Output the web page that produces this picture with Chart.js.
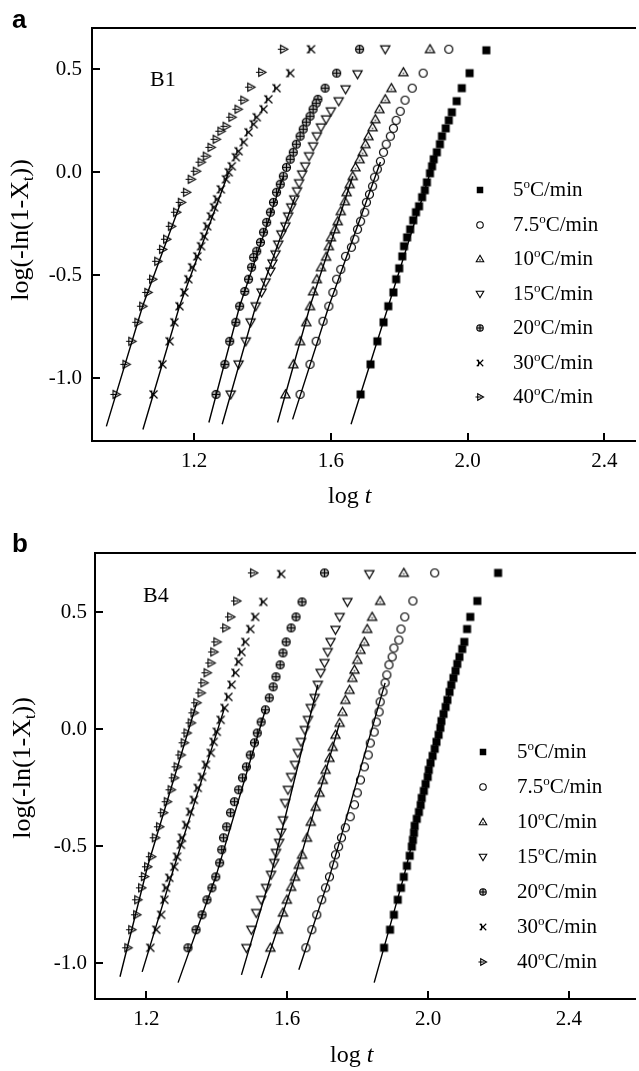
<!DOCTYPE html>
<html>
<head>
<meta charset="utf-8">
<script src="https://cdn.jsdelivr.net/npm/chart.js@4.4.0/dist/chart.umd.min.js"></script>
<style>
  html, body { margin: 0; padding: 0; background: #fff; }
  body { width: 639px; height: 1071px; position: relative; overflow: hidden;
         font-family: 'Liberation Serif', 'Times New Roman', serif; color: #000; }
  canvas.plot { position: absolute; left: 0; }
  .txt { position: absolute; white-space: nowrap; line-height: 1; }
  .panel { font-family: 'Liberation Sans', Arial, sans-serif; font-weight: bold; font-size: 26px; }
  .ytitle { font-size: 26px; transform: translate(-50%, -50%) rotate(-90deg); }
  .xtitle { font-size: 24px; }
  .tag { font-size: 22px; }
  .legtxt { font-size: 21px; }
  sup { font-size: 62%; vertical-align: 0.62em; line-height: 0; }
  sub { font-size: 62%; vertical-align: -0.32em; line-height: 0; }
  canvas.mk { position: absolute; }
</style>
</head>
<body>
<canvas id="chartA" class="plot" width="639" height="520" style="top:0"></canvas>
<canvas id="chartB" class="plot" width="639" height="546" style="top:525px"></canvas>

<div class="txt panel" style="left:12px; top:6px">a</div>
<div class="txt panel" style="left:12px; top:530px">b</div>
<div class="txt ytitle" style="left:20px; top:230px">log(-ln(1-X<sub>t</sub>))</div>
<div class="txt ytitle" style="left:22px; top:768px">log(-ln(1-X<sub>t</sub>))</div>
<div class="txt xtitle" style="left:328px; top:483px">log <i>t</i></div>
<div class="txt xtitle" style="left:330px; top:1042px">log <i>t</i></div>
<div class="txt tag" style="left:150px; top:68px">B1</div>
<div class="txt tag" style="left:143px; top:584px">B4</div>

<script>
// heating rates (legend categories)
const rates = ['5', '7.5', '10', '15', '20', '30', '40'];
const xTicks = [1.2, 1.6, 2.0, 2.4];
const yTicks = [-1.0, -0.5, 0.0, 0.5];

// ---- B1 (panel a): [log t, log(-ln(1-Xt))] ----
const b1_5 = [[2.055,0.592],[2.006,0.481],[1.983,0.408],[1.968,0.345],[1.954,0.291],[1.945,0.252],[1.936,0.213],[1.925,0.175],[1.919,0.136],[1.910,0.097],[1.901,0.063],[1.896,0.029],[1.890,-0.005],[1.881,-0.049],[1.875,-0.087],[1.867,-0.121],[1.858,-0.165],[1.849,-0.194],[1.841,-0.233],[1.832,-0.277],[1.823,-0.316],[1.814,-0.359],[1.809,-0.408],[1.800,-0.466],[1.791,-0.519],[1.783,-0.583],[1.768,-0.650],[1.754,-0.728],[1.736,-0.820],[1.716,-0.932],[1.687,-1.078]];
const b1_7 = [[1.945,0.597],[1.870,0.481],[1.838,0.408],[1.817,0.350],[1.803,0.296],[1.791,0.252],[1.783,0.213],[1.774,0.175],[1.762,0.136],[1.754,0.097],[1.745,0.053],[1.736,0.015],[1.728,-0.024],[1.722,-0.068],[1.713,-0.107],[1.704,-0.146],[1.699,-0.194],[1.687,-0.238],[1.678,-0.277],[1.670,-0.325],[1.660,-0.364],[1.643,-0.408],[1.629,-0.471],[1.617,-0.519],[1.606,-0.583],[1.594,-0.650],[1.577,-0.723],[1.557,-0.820],[1.539,-0.932],[1.510,-1.078]];
const b1_10 = [[1.890,0.597],[1.812,0.485],[1.777,0.408],[1.759,0.354],[1.742,0.306],[1.730,0.257],[1.722,0.218],[1.710,0.175],[1.701,0.136],[1.693,0.097],[1.684,0.063],[1.672,0.024],[1.664,-0.019],[1.655,-0.058],[1.646,-0.097],[1.641,-0.141],[1.629,-0.189],[1.620,-0.238],[1.612,-0.277],[1.600,-0.316],[1.594,-0.359],[1.586,-0.410],[1.571,-0.461],[1.559,-0.519],[1.548,-0.578],[1.539,-0.650],[1.528,-0.728],[1.510,-0.820],[1.490,-0.932],[1.467,-1.078]];
const b1_15 = [[1.759,0.597],[1.678,0.476],[1.643,0.403],[1.623,0.345],[1.600,0.296],[1.586,0.257],[1.571,0.218],[1.559,0.175],[1.548,0.126],[1.536,0.078],[1.525,0.029],[1.516,-0.010],[1.507,-0.053],[1.501,-0.092],[1.493,-0.131],[1.484,-0.170],[1.475,-0.214],[1.467,-0.262],[1.455,-0.301],[1.446,-0.350],[1.438,-0.398],[1.429,-0.442],[1.423,-0.481],[1.409,-0.534],[1.397,-0.583],[1.380,-0.650],[1.365,-0.728],[1.351,-0.820],[1.330,-0.932],[1.307,-1.078]];
const b1_20 = [[1.684,0.597],[1.617,0.481],[1.583,0.408],[1.562,0.354],[1.557,0.335],[1.548,0.306],[1.539,0.272],[1.528,0.243],[1.519,0.209],[1.510,0.175],[1.499,0.136],[1.490,0.097],[1.481,0.063],[1.470,0.024],[1.461,-0.019],[1.452,-0.058],[1.441,-0.097],[1.432,-0.146],[1.423,-0.194],[1.412,-0.243],[1.403,-0.291],[1.394,-0.340],[1.383,-0.383],[1.374,-0.413],[1.368,-0.461],[1.359,-0.519],[1.348,-0.578],[1.333,-0.650],[1.322,-0.728],[1.304,-0.820],[1.290,-0.932],[1.264,-1.078]];
const b1_30 = [[1.542,0.597],[1.481,0.481],[1.441,0.408],[1.417,0.354],[1.403,0.306],[1.383,0.267],[1.374,0.233],[1.359,0.194],[1.345,0.146],[1.330,0.102],[1.322,0.073],[1.310,0.029],[1.301,0.000],[1.293,-0.034],[1.278,-0.083],[1.267,-0.131],[1.258,-0.170],[1.249,-0.214],[1.238,-0.262],[1.229,-0.311],[1.220,-0.359],[1.209,-0.408],[1.194,-0.461],[1.183,-0.519],[1.171,-0.583],[1.157,-0.650],[1.142,-0.728],[1.128,-0.820],[1.107,-0.932],[1.081,-1.078]];
const b1_40 = [[1.461,0.597],[1.397,0.485],[1.365,0.413],[1.345,0.350],[1.328,0.306],[1.310,0.267],[1.293,0.223],[1.278,0.199],[1.264,0.160],[1.249,0.121],[1.235,0.078],[1.220,0.049],[1.206,0.005],[1.191,-0.034],[1.177,-0.097],[1.162,-0.146],[1.148,-0.194],[1.133,-0.262],[1.119,-0.325],[1.107,-0.374],[1.093,-0.432],[1.078,-0.519],[1.064,-0.583],[1.049,-0.650],[1.035,-0.728],[1.017,-0.820],[1.000,-0.932],[0.971,-1.078]];

// Avrami fit lines, B1
const b1Fit5 = [[1.659,-1.223],[1.768,-0.650],[1.910,0.100]];
const b1Fit7 = [[1.488,-1.199],[1.594,-0.650],[1.745,0.050]];
const b1Fit10 = [[1.444,-1.214],[1.539,-0.650],[1.664,-0.020]];
const b1Fit15 = [[1.282,-1.223],[1.380,-0.650],[1.495,-0.120]];
const b1Fit20 = [[1.243,-1.214],[1.333,-0.650],[1.461,-0.020]];
const b1Fit30 = [[1.050,-1.248],[1.157,-0.650],[1.301,0.000]];
const b1Fit40 = [[0.943,-1.233],[1.049,-0.650],[1.160,-0.150]];

// ---- B4 (panel b) ----
const b4_5 = [[2.199,0.668],[2.140,0.548],[2.120,0.480],[2.111,0.428],[2.103,0.373],[2.097,0.343],[2.089,0.309],[2.083,0.279],[2.078,0.249],[2.072,0.219],[2.066,0.189],[2.061,0.159],[2.055,0.125],[2.050,0.095],[2.044,0.065],[2.038,0.035],[2.035,0.006],[2.030,-0.024],[2.024,-0.054],[2.019,-0.084],[2.013,-0.114],[2.007,-0.144],[2.002,-0.174],[1.999,-0.204],[1.993,-0.234],[1.988,-0.264],[1.982,-0.294],[1.979,-0.324],[1.974,-0.354],[1.968,-0.383],[1.962,-0.413],[1.960,-0.443],[1.957,-0.473],[1.954,-0.502],[1.948,-0.541],[1.940,-0.584],[1.931,-0.631],[1.923,-0.678],[1.914,-0.729],[1.903,-0.793],[1.892,-0.857],[1.875,-0.934]];
const b4_7 = [[2.019,0.668],[1.957,0.548],[1.934,0.480],[1.923,0.428],[1.917,0.381],[1.903,0.347],[1.898,0.309],[1.889,0.275],[1.883,0.232],[1.878,0.198],[1.872,0.160],[1.864,0.117],[1.861,0.074],[1.853,0.031],[1.847,-0.012],[1.836,-0.059],[1.830,-0.110],[1.819,-0.161],[1.808,-0.217],[1.799,-0.272],[1.791,-0.323],[1.779,-0.374],[1.765,-0.421],[1.754,-0.464],[1.746,-0.502],[1.737,-0.537],[1.732,-0.580],[1.720,-0.631],[1.709,-0.678],[1.698,-0.729],[1.684,-0.793],[1.670,-0.857],[1.653,-0.934]];
const b4_10 = [[1.931,0.668],[1.864,0.548],[1.841,0.480],[1.827,0.428],[1.819,0.373],[1.808,0.339],[1.799,0.296],[1.791,0.254],[1.785,0.219],[1.777,0.168],[1.765,0.125],[1.757,0.074],[1.749,0.027],[1.737,-0.024],[1.729,-0.076],[1.720,-0.123],[1.709,-0.174],[1.701,-0.217],[1.692,-0.272],[1.681,-0.332],[1.667,-0.396],[1.656,-0.464],[1.642,-0.537],[1.633,-0.580],[1.622,-0.631],[1.611,-0.674],[1.599,-0.729],[1.588,-0.784],[1.574,-0.857],[1.552,-0.934]];
const b4_15 = [[1.833,0.663],[1.771,0.544],[1.749,0.480],[1.737,0.425],[1.723,0.373],[1.715,0.330],[1.706,0.283],[1.695,0.241],[1.687,0.190],[1.678,0.134],[1.667,0.091],[1.659,0.040],[1.650,-0.003],[1.639,-0.054],[1.630,-0.101],[1.622,-0.152],[1.611,-0.204],[1.602,-0.259],[1.594,-0.315],[1.588,-0.389],[1.583,-0.441],[1.577,-0.485],[1.568,-0.528],[1.563,-0.571],[1.554,-0.622],[1.540,-0.678],[1.526,-0.729],[1.512,-0.785],[1.498,-0.857],[1.484,-0.935]];
const b4_20 = [[1.706,0.668],[1.642,0.544],[1.625,0.480],[1.611,0.433],[1.597,0.373],[1.588,0.326],[1.580,0.275],[1.568,0.224],[1.560,0.181],[1.549,0.134],[1.538,0.083],[1.526,0.031],[1.515,-0.016],[1.507,-0.058],[1.495,-0.110],[1.484,-0.161],[1.473,-0.208],[1.462,-0.259],[1.450,-0.310],[1.439,-0.357],[1.428,-0.417],[1.419,-0.464],[1.414,-0.515],[1.408,-0.571],[1.397,-0.631],[1.386,-0.678],[1.372,-0.729],[1.358,-0.793],[1.341,-0.857],[1.318,-0.934]];
const b4_30 = [[1.583,0.663],[1.532,0.544],[1.509,0.480],[1.495,0.428],[1.481,0.373],[1.470,0.330],[1.462,0.288],[1.453,0.241],[1.442,0.190],[1.433,0.138],[1.422,0.091],[1.411,0.040],[1.400,-0.011],[1.391,-0.054],[1.383,-0.101],[1.369,-0.152],[1.358,-0.204],[1.346,-0.251],[1.335,-0.302],[1.324,-0.353],[1.313,-0.409],[1.301,-0.464],[1.298,-0.494],[1.287,-0.545],[1.279,-0.588],[1.265,-0.635],[1.256,-0.678],[1.251,-0.729],[1.242,-0.793],[1.228,-0.857],[1.211,-0.934]];
const b4_40 = [[1.504,0.668],[1.456,0.548],[1.439,0.480],[1.425,0.433],[1.400,0.373],[1.391,0.330],[1.383,0.283],[1.372,0.241],[1.363,0.198],[1.355,0.155],[1.343,0.113],[1.335,0.070],[1.327,0.027],[1.315,-0.016],[1.307,-0.058],[1.298,-0.110],[1.287,-0.161],[1.279,-0.208],[1.270,-0.259],[1.259,-0.310],[1.248,-0.357],[1.237,-0.417],[1.225,-0.464],[1.214,-0.545],[1.203,-0.588],[1.194,-0.630],[1.186,-0.678],[1.175,-0.729],[1.172,-0.793],[1.158,-0.857],[1.147,-0.934]];

// Avrami fit lines, B4
const b4Fit5 = [[1.847,-1.083],[1.931,-0.631],[2.061,0.159]];
const b4Fit7 = [[1.633,-1.028],[1.720,-0.631],[1.878,0.198]];
const b4Fit10 = [[1.526,-1.063],[1.622,-0.631],[1.749,0.027]];
const b4Fit15 = [[1.470,-1.050],[1.554,-0.622],[1.687,0.190]];
const b4Fit20 = [[1.290,-1.083],[1.397,-0.631],[1.538,0.083]];
const b4Fit30 = [[1.188,-1.037],[1.279,-0.588],[1.422,0.091]];
const b4Fit40 = [[1.125,-1.058],[1.203,-0.588],[1.343,0.113]];

const kinds = ['square', 'circle', 'triUp', 'triDown', 'oplus', 'xstar', 'triRight'];

// draw one marker symbol into a small canvas (used as pointStyle)
function marker(kind, s, lw) {
  const size = Math.ceil(s * 1.8) + 2;
  const c = document.createElement('canvas');
  c.width = c.height = size;
  const g = c.getContext('2d');
  g.translate(size / 2, size / 2);
  const h = s / 2;
  g.lineWidth = lw;
  g.strokeStyle = '#000';
  g.beginPath();
  if (kind === 'square') {
    g.fillStyle = '#000';
    g.fillRect(-h, -h, s, s);
    return c;
  }
  if (kind === 'circle') {
    g.arc(0, 0, h, 0, Math.PI * 2);
  } else if (kind === 'triUp') {
    g.moveTo(0, -h * 1.15); g.lineTo(h * 1.15, h * 0.85); g.lineTo(-h * 1.15, h * 0.85); g.closePath();
    g.fillStyle = '#fff'; g.fill();
    g.stroke();
    g.fillStyle = '#555';
    g.fillRect(-0.8, h * 0.05, 1.6, 1.6);
    return c;
  } else if (kind === 'triDown') {
    g.moveTo(-h * 1.15, -h * 0.85); g.lineTo(h * 1.15, -h * 0.85); g.lineTo(0, h * 1.15); g.closePath();
  } else if (kind === 'oplus') {
    g.arc(0, 0, h, 0, Math.PI * 2);
    g.fillStyle = '#bbb'; g.fill();
    g.moveTo(-h, 0); g.lineTo(h, 0);
    g.moveTo(0, -h); g.lineTo(0, h);
  } else if (kind === 'xstar') {
    g.moveTo(-h, -h); g.lineTo(h, h);
    g.moveTo(-h, h); g.lineTo(h, -h);
    g.moveTo(-h * 0.45, -h); g.lineTo(-h * 0.45, h);
  } else if (kind === 'triRight') {
    g.moveTo(-h * 0.7, -h); g.lineTo(h * 1.1, 0); g.lineTo(-h * 0.7, h); g.closePath();
    g.moveTo(-h * 1.4, 0); g.lineTo(h * 0.4, 0);
  }
  g.stroke();
  return c;
}

const plotMarks = kinds.map(k => marker(k, 8, 1.2));
const legendMarks = kinds.map(k => marker(k, 6.5, 1.1));

// frame with inward ticks and the top edge of the box
const framePlugin = {
  id: 'frame',
  afterDraw(chart) {
    const ctx = chart.ctx;
    const a = chart.chartArea;
    const xs = chart.scales.x, ys = chart.scales.y;
    ctx.save();
    ctx.strokeStyle = '#000';
    ctx.lineWidth = 2;
    ctx.beginPath();
    ctx.moveTo(a.right + 2, a.top); ctx.lineTo(a.left, a.top);
    ctx.lineTo(a.left, a.bottom); ctx.lineTo(a.right + 2, a.bottom);
    xs.ticks.forEach(t => {
      const px = Math.round(xs.getPixelForValue(t.value));
      ctx.moveTo(px, a.bottom); ctx.lineTo(px, a.bottom - 8);
    });
    ys.ticks.forEach(t => {
      const py = Math.round(ys.getPixelForValue(t.value));
      ctx.moveTo(a.left, py); ctx.lineTo(a.left + 8, py);
    });
    ctx.stroke();
    ctx.restore();
  }
};

function makeChart(id, sets, fits, cfg) {
  const datasets = [];
  sets.forEach((pts, i) => {
    datasets.push({
      label: rates[i] + '°C/min',
      data: pts.map(([x, y]) => ({ x, y })),
      pointStyle: plotMarks[i],
      pointRadius: 4,
      showLine: false,
      order: 1
    });
  });
  fits.forEach(pts => {
    datasets.push({
      data: pts.map(([x, y]) => ({ x, y })),
      showLine: true,
      borderColor: '#000',
      borderWidth: 1.4,
      pointRadius: 0,
      tension: 0,
      order: 0
    });
  });
  const tickFont = { family: 'Liberation Serif', size: 21 };
  return new Chart(document.getElementById(id), {
    type: 'scatter',
    data: { datasets },
    options: {
      responsive: false,
      animation: false,
      devicePixelRatio: 1,
      layout: { padding: { top: cfg.padTop, right: 0, left: 0, bottom: 0 } },
      plugins: { legend: { display: false }, tooltip: { enabled: false } },
      scales: {
        x: {
          type: 'linear', min: cfg.xMin, max: cfg.xMax,
          afterBuildTicks: s => { s.ticks = xTicks.map(v => ({ value: v })); },
          afterFit: s => { s.height = cfg.xH; },
          ticks: { font: tickFont, color: '#000', padding: 8, maxRotation: 0, autoSkip: false,
                   callback: v => v.toFixed(1) },
          grid: { display: false, drawTicks: false },
          border: { display: false }
        },
        y: {
          type: 'linear', min: cfg.yMin, max: cfg.yMax,
          afterBuildTicks: s => { s.ticks = yTicks.map(v => ({ value: v })); },
          afterFit: s => { s.width = cfg.yW; },
          ticks: { font: tickFont, color: '#000', padding: cfg.yPad, autoSkip: false,
                   callback: v => v.toFixed(1) },
          grid: { display: false, drawTicks: false },
          border: { display: false }
        }
      }
    },
    plugins: [framePlugin]
  });
}

makeChart('chartA',
  [b1_5, b1_7, b1_10, b1_15, b1_20, b1_30, b1_40],
  [b1Fit5, b1Fit7, b1Fit10, b1Fit15, b1Fit20, b1Fit30, b1Fit40],
  { xMin: 0.901, xMax: 2.487, yMin: -1.304, yMax: 0.700, padTop: 28, xH: 79, yW: 92, yPad: 10 });

makeChart('chartB',
  [b4_5, b4_7, b4_10, b4_15, b4_20, b4_30, b4_40],
  [b4Fit5, b4Fit7, b4Fit10, b4Fit15, b4Fit20, b4Fit30, b4Fit40],
  { xMin: 1.054, xMax: 2.585, yMin: -1.153, yMax: 0.753, padTop: 28, xH: 72, yW: 95, yPad: 8 });

// legends (marker + label), one per panel
function legend(markX, textX, firstY, step) {
  rates.forEach((r, i) => {
    const y = firstY + i * step;
    const m = legendMarks[i];
    const c = document.createElement('canvas');
    c.width = m.width; c.height = m.height;
    c.className = 'mk';
    c.getContext('2d').drawImage(m, 0, 0);
    c.style.left = (markX - m.width / 2) + 'px';
    c.style.top = (y - m.height / 2) + 'px';
    document.body.appendChild(c);
    const t = document.createElement('div');
    t.className = 'txt legtxt';
    t.innerHTML = r + '<sup>o</sup>C/min';
    t.style.left = textX + 'px';
    t.style.top = (y - 11) + 'px';
    document.body.appendChild(t);
  });
}
legend(480, 513, 190, 34.5);
legend(483, 517, 752, 35);
</script>
</body>
</html>
